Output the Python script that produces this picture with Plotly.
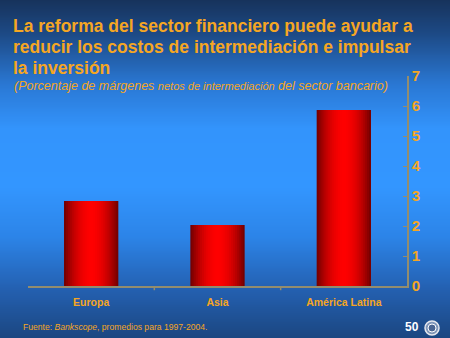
import plotly.graph_objects as go
import numpy as np

categories = ["Europa", "Asia", "América Latina"]
values = [2.83, 2.03, 5.87]
y_ticks = [0, 1, 2, 3, 4, 5, 6, 7]
title_lines = ["La reforma del sector financiero puede ayudar a",
               "reducir los costos de intermediación e impulsar",
               "la inversión"]

W, H = 450, 338
ORANGE = "#f5a623"
FONT = "Arial, Liberation Sans, sans-serif"

fig = go.Figure()

bg_colors = [
    [0.0, "#17335c"],
    [0.10, "#1d4a86"],
    [0.25, "#2a78d4"],
    [0.38, "#3394fc"],
    [0.55, "#3396ff"],
    [0.70, "#2c84e8"],
    [0.85, "#2461b2"],
    [1.0, "#1b4680"],
]
n = 120
zbg = [[i / (n - 1)] * 2 for i in range(n)]
fig.add_trace(go.Heatmap(z=zbg, colorscale=bg_colors,
                         showscale=False, hoverinfo="skip", zsmooth="best",
                         xaxis="x", yaxis="y"))

N = 14
bw = 0.43
dark = np.array([120, 0, 0])
bright = np.array([255, 0, 0])
for k in range(N):
    d = 1 - k / N
    f = 1 - d ** 2
    c = dark + (bright - dark) * f
    col = "rgb(%d,%d,%d)" % tuple(c.astype(int))
    fig.add_trace(go.Bar(x=list(range(len(categories))), y=values, width=bw * d,
                         marker=dict(color=col, line=dict(width=0)),
                         xaxis="x2", yaxis="y2", showlegend=False, hoverinfo="skip"))

AX = "#938d6e"
fig.update_layout(
    width=W, height=H,
    margin=dict(l=0, r=0, t=0, b=0, pad=0, autoexpand=False),
    barmode="overlay",
    paper_bgcolor="#1c4a86",
    plot_bgcolor="rgba(0,0,0,0)",
    showlegend=False,
    xaxis=dict(domain=[0, 1], visible=False, range=[0, 1], automargin=False),
    yaxis=dict(domain=[0, 1], visible=False, range=[n - 1, 0], automargin=False),
    xaxis2=dict(domain=[28 / W, 407 / W], anchor="y2", range=[-0.5, 2.5],
                tickvals=list(range(len(categories))),
                ticktext=["<b>%s</b>" % c for c in categories],
                showline=True, linecolor=AX, linewidth=1.5,
                showgrid=False, zeroline=False, ticks="", automargin=False,
                ticklabelstandoff=6,
                tickfont=dict(family=FONT, size=10.5, color=ORANGE)),
    yaxis2=dict(domain=[1 - 286 / H, 1 - 76 / H], anchor="x2", side="right",
                range=[0, 7], tickvals=y_ticks, automargin=False,
                ticktext=["<b>%d</b>" % t for t in y_ticks], showline=True,
                linecolor=AX, linewidth=1.5, ticks="inside", ticklen=4,
                tickcolor=AX, showgrid=False, zeroline=False,
                tickfont=dict(family=FONT, size=15, color=ORANGE)),
)

for b in [0.5, 1.5]:
    fig.add_shape(type="line", xref="x2", yref="y2 domain", x0=b, x1=b, y0=0, y1=-0.02,
                  line=dict(color=AX, width=1.5))

for line, yc in zip(title_lines, [26, 47, 68]):
    fig.add_annotation(
        text="<b>%s</b>" % line,
        xref="paper", yref="paper", x=11 / W, y=1 - yc / H, xanchor="left", yanchor="middle",
        align="left", showarrow=False, font=dict(family=FONT, size=17.5, color=ORANGE))

fig.add_annotation(
    text="<i>(Porcentaje de márgenes <span style='font-size:11px'>netos de intermediación</span> del sector bancario)</i>",
    xref="paper", yref="paper", x=12 / W, y=1 - 86 / H, xanchor="left", yanchor="middle",
    align="left", showarrow=False, font=dict(family=FONT, size=12.5, color=ORANGE))

fig.add_annotation(
    text="Fuente: <i>Bankscope</i>, promedios para 1997-2004.",
    xref="paper", yref="paper", x=21 / W, y=1 - 327 / H, xanchor="left", yanchor="middle",
    showarrow=False, font=dict(family=FONT, size=8.6, color=ORANGE))

fig.add_annotation(
    text="<b>50</b>", xref="paper", yref="paper", x=412 / W, y=1 - 327 / H,
    xanchor="center", yanchor="middle", showarrow=False,
    font=dict(family=FONT, size=12, color="white"))

fig.add_shape(type="circle", xref="paper", yref="paper",
              x0=425 / W, x1=439 / W, y0=1 - 335 / H, y1=1 - 321 / H,
              line=dict(color="#e6e8ee", width=1.5), fillcolor="rgba(190,198,215,0.6)")
fig.add_shape(type="circle", xref="paper", yref="paper",
              x0=428 / W, x1=436 / W, y0=1 - 332 / H, y1=1 - 324 / H,
              line=dict(color="#ffffff", width=1), fillcolor="rgba(40,70,120,0.6)")

fig.write_html("out.html")
